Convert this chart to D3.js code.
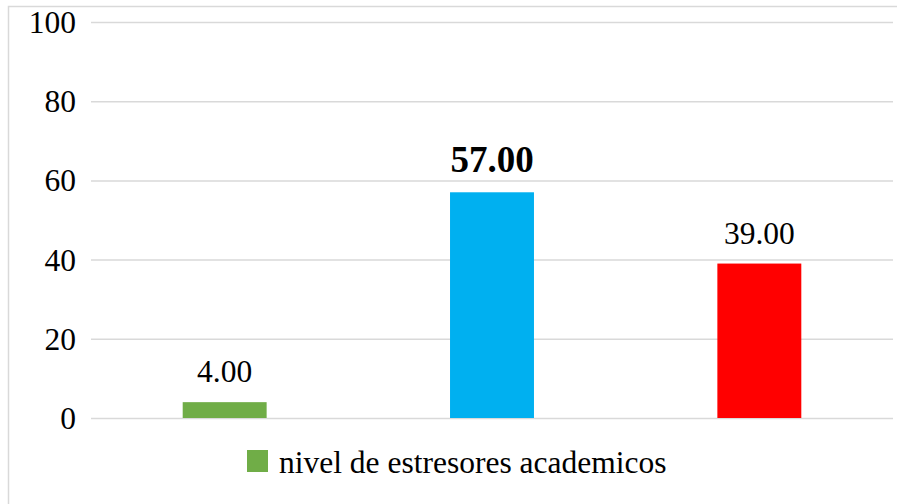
<!DOCTYPE html>
<html>
<head>
<meta charset="utf-8">
<script src="https://cdn.jsdelivr.net/npm/d3@7"></script>
<style>
  html, body { margin: 0; padding: 0; background: #fff; }
  svg { display: block; }
</style>
</head>
<body>
<svg id="chart" width="897" height="504"></svg>
<script>
// Percentages by stress level of academic stressors
const categories = ["Leve", "Moderado", "Severo"];
const values = [4.00, 57.00, 39.00];
const barColors = ["#70ad47", "#00b0f0", "#ff0000"];
const labelBold = [false, true, false];
const yTicks = [0, 20, 40, 60, 80, 100];
const legendLabel = "nivel de estresores academicos";

const svg = d3.select("#chart");
const font = "Liberation Serif";

// Outer chart frame
svg.append("rect")
  .attr("x", 8.5).attr("y", 6.5)
  .attr("width", 900).attr("height", 520)
  .attr("fill", "#fff")
  .attr("stroke", "#d9d9d9")
  .attr("stroke-width", 1.5);

const plot = { left: 91, right: 893, top: 22, bottom: 418 };

const x = d3.scaleBand()
  .domain(categories)
  .range([plot.left, plot.right])
  .paddingInner(0.686)
  .paddingOuter(0.343);

const y = d3.scaleLinear()
  .domain([0, 100])
  .range([plot.bottom, plot.top]);

// Horizontal gridlines with tick labels
const yAxis = d3.axisLeft(y)
  .tickValues(yTicks)
  .tickSize(-(plot.right - plot.left))
  .tickPadding(15)
  .tickFormat(d3.format("d"));

const gy = svg.append("g")
  .attr("transform", `translate(${plot.left},0)`)
  .call(yAxis)
  .attr("font-family", null)
  .attr("font-size", null);
gy.select(".domain").remove();
gy.selectAll(".tick line")
  .attr("stroke", "#d9d9d9")
  .attr("stroke-width", 1.5);
gy.selectAll(".tick text")
  .style("font-family", font)
  .style("font-size", "31.5px")
  .attr("fill", "#000")
  .attr("dy", "0.33em");

// Bars
svg.append("g")
  .selectAll("rect")
  .data(values)
  .join("rect")
  .attr("x", (d, i) => x(categories[i]))
  .attr("y", d => y(d))
  .attr("width", x.bandwidth())
  .attr("height", d => y(0) - y(d))
  .attr("fill", (d, i) => barColors[i]);

// Value labels above the bars
svg.append("g")
  .selectAll("text")
  .data(values)
  .join("text")
  .attr("x", (d, i) => x(categories[i]) + x.bandwidth() / 2)
  .attr("y", d => y(d) - 20)
  .attr("text-anchor", "middle")
  .style("font-family", font)
  .style("font-size", (d, i) => labelBold[i] ? "37px" : "31.5px")
  .style("font-weight", (d, i) => labelBold[i] ? "bold" : "normal")
  .attr("fill", "#000")
  .text(d => d3.format(".2f")(d));

// Legend
const legend = svg.append("g");
legend.append("rect")
  .attr("x", 247).attr("y", 450)
  .attr("width", 21).attr("height", 22)
  .attr("fill", barColors[0]);
legend.append("text")
  .attr("x", 279).attr("y", 473)
  .style("font-family", font)
  .style("font-size", "31.5px")
  .attr("fill", "#000")
  .text(legendLabel);
</script>
</body>
</html>
